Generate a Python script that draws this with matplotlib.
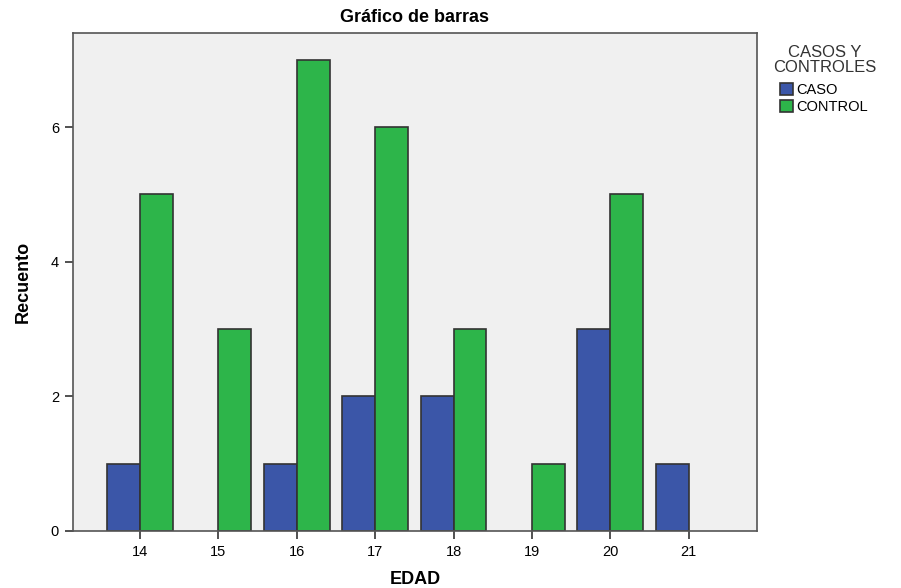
import numpy as np
import matplotlib.pyplot as plt

# datos
edad = [14, 15, 16, 17, 18, 19, 20, 21]
caso = [1, 0, 1, 2, 2, 0, 3, 1]
control = [5, 3, 7, 6, 3, 1, 5, 0]

color_caso = '#3b56a8'
color_control = '#2db54a'

plt.rcParams['font.family'] = ['Liberation Sans', 'DejaVu Sans']

fig = plt.figure(figsize=(9.01, 5.88), dpi=100)
ax = fig.add_axes([0.081, 0.097, 0.759, 0.847])
ax.set_facecolor('#f0f0f0')

x = np.array(edad)
w = 0.42
b1 = ax.bar(x - w / 2, caso, width=w, color=color_caso, edgecolor='#333333', linewidth=1.2, label='CASO')
b2 = ax.bar(x + w / 2, control, width=w, color=color_control, edgecolor='#333333', linewidth=1.2, label='CONTROL')
# sin borde en barras de altura cero
for p in list(b1) + list(b2):
    if p.get_height() == 0:
        p.set_visible(False)

ax.set_xlim(13.145, 21.87)
ax.set_ylim(0, 7.4)
ax.set_xticks(edad)
ax.set_yticks([0, 2, 4, 6])
ax.tick_params(direction='out', length=6, width=1.2, color='#333333', labelsize=10.5, pad=4)
for s in ax.spines.values():
    s.set_color('#555555')
    s.set_linewidth(1.2)

ax.set_title('Gráfico de barras', fontsize=13, fontweight='bold', pad=8)
ax.set_xlabel('EDAD', fontsize=13, fontweight='bold', labelpad=9)
ax.set_ylabel('Recuento', fontsize=13, fontweight='bold', labelpad=14,
              family=['Liberation Sans Narrow', 'Liberation Sans', 'DejaVu Sans'])

fig.text(825 / 901, 1 - 60 / 588, 'CASOS Y\nCONTROLES', ha='center', va='center',
         fontsize=12, color='#333333', linespacing=1.0)
leg = ax.legend(loc='upper left', bbox_to_anchor=(780 / 901, 1 - 83 / 588),
                bbox_transform=fig.transFigure, frameon=False, fontsize=10.5,
                handlelength=0.9, handleheight=0.9, handletextpad=0.2,
                borderaxespad=0, borderpad=0, labelspacing=0.2)

fig.savefig('out.png', dpi=100)
